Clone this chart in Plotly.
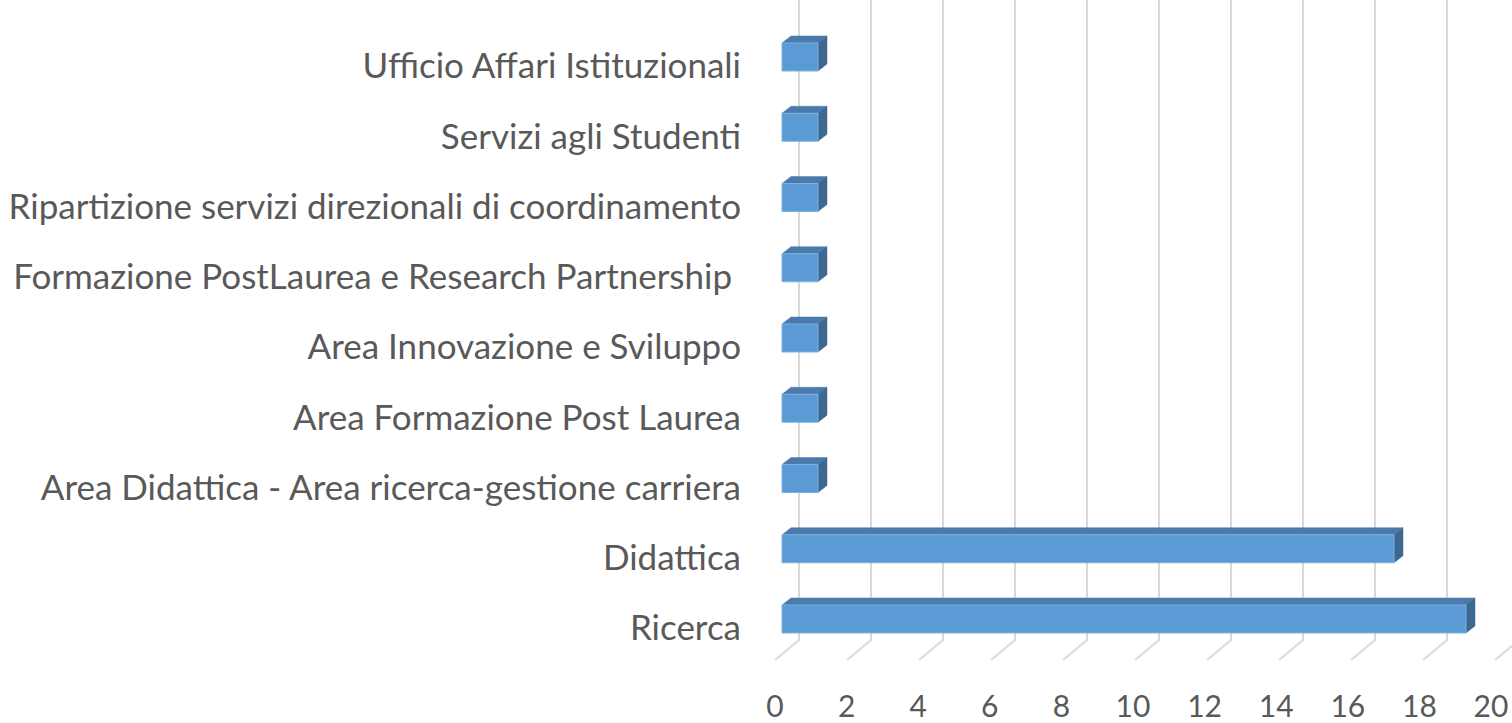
import plotly.graph_objects as go

categories = ["Ricerca", "Didattica", "Area Didattica - Area ricerca-gestione carriera",
              "Area Formazione Post Laurea", "Area Innovazione e Sviluppo",
              "Formazione PostLaurea e Research Partnership ",
              "Ripartizione servizi direzionali di coordinamento",
              "Servizi agli Studenti", "Ufficio Affari Istituzionali"]
values = [19, 17, 1, 1, 1, 1, 1, 1, 1]
tick_vals = [0, 2, 4, 6, 8, 10, 12, 14, 16, 18, 20]

PX_X = 36.0      # pixels per value unit
PX_Y = 70.25     # pixels per category
FRONT_COLOR = "#5b9bd5"
TOP_COLOR = "#4a7bac"
SIDE_COLOR = "#3d6891"
GRID_COLOR = "#d9d9d9"
TEXT_COLOR = "#595959"

# 3D geometry (in data units)
back_dx = 17 / PX_X          # back wall offset from bar front plane
floor_dx = -7 / PX_X         # floor front edge offset
back_y = -12 / PX_Y          # bottom of the back wall
floor_y = -32 / PX_Y         # front floor edge
bar_off = 9 / PX_Y           # bar center above label center
bar_h = 28 / PX_Y
depth_dx = 9 / PX_X
depth_dy = 7 / PX_Y
label_scale = 35.8 / PX_X    # tick labels sit on the front (perspective) plane

y_top = 628 / PX_Y
y_bot = (628 - 680) / PX_Y
x_left = -22 / PX_X
x_right = 730 / PX_X

fig = go.Figure()

# gridlines (back wall + floor diagonals)
gx, gy = [], []
for v in tick_vals:
    gx += [v + back_dx, v + back_dx, v + floor_dx, None]
    gy += [y_top + 1, back_y, floor_y, None]
fig.add_trace(go.Scatter(x=gx, y=gy, mode="lines", line=dict(color=GRID_COLOR, width=2),
                         hoverinfo="skip", showlegend=False))

for i, (c, v) in enumerate(zip(categories, values)):
    yc = i + bar_off
    b, t = yc - bar_h / 2, yc + bar_h / 2
    # top face
    fig.add_trace(go.Scatter(x=[0, depth_dx, v + depth_dx, v, 0],
                             y=[t, t + depth_dy, t + depth_dy, t, t],
                             fill="toself", fillcolor=TOP_COLOR, mode="lines",
                             line=dict(color=TOP_COLOR, width=0.5), hoverinfo="skip", showlegend=False))
    # side face
    fig.add_trace(go.Scatter(x=[v, v + depth_dx, v + depth_dx, v, v],
                             y=[b, b + depth_dy, t + depth_dy, t, b],
                             fill="toself", fillcolor=SIDE_COLOR, mode="lines",
                             line=dict(color=SIDE_COLOR, width=0.5), hoverinfo="skip", showlegend=False))
    # front face
    fig.add_trace(go.Scatter(x=[0, v, v, 0, 0], y=[b, b, t, t, b],
                             fill="toself", fillcolor=FRONT_COLOR, mode="lines",
                             line=dict(color="#7fb1de", width=1), name=c,
                             hovertemplate=f"{c}: {v}<extra></extra>", showlegend=False))

fig.update_layout(
    width=1512, height=723,
    margin=dict(l=760, r=0, t=0, b=43),
    paper_bgcolor="white", plot_bgcolor="white",
    font=dict(family="Lato", color=TEXT_COLOR, size=35),
    xaxis=dict(range=[x_left, x_right], showgrid=False, zeroline=False, showline=False,
               tickmode="array", tickvals=[v * label_scale + floor_dx for v in tick_vals],
               ticktext=[str(v) for v in tick_vals], ticks="", tickfont=dict(size=30),
               ticklabelstandoff=6, ticklabeloverflow="allow", automargin=False,
               fixedrange=True),
    yaxis=dict(range=[y_bot, y_top], showgrid=False, zeroline=False, showline=False,
               tickmode="array", tickvals=list(range(len(categories))),
               ticktext=categories, ticks="", ticklabelstandoff=18, tickfont=dict(size=35),
               automargin=False, fixedrange=True),
)

fig.write_html("out.html", config={"displayModeBar": False},
               post_script="document.body.style.margin='0px';document.body.style.overflow='hidden';")
